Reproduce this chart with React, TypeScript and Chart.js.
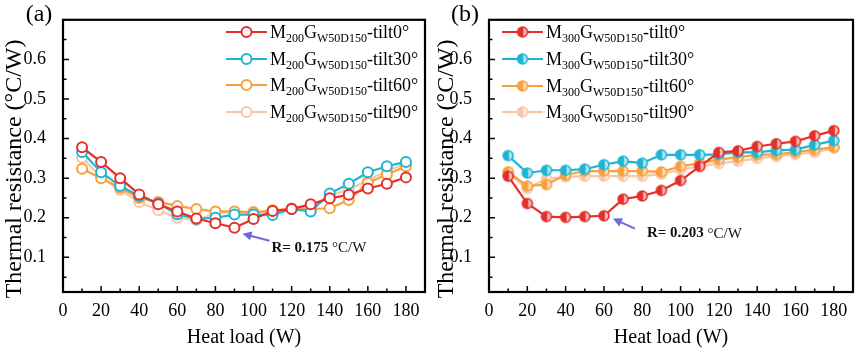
import React, { useEffect, useRef } from "react";
import { Chart, registerables } from "chart.js";
Chart.register(...registerables);

// ---------- data ----------
const heatLoad = [10, 20, 30, 40, 50, 60, 70, 80, 90, 100, 110, 120, 130, 140, 150, 160, 170, 180];

const m200Tilt0 = [0.378, 0.341, 0.300, 0.259, 0.234, 0.216, 0.198, 0.186, 0.175, 0.197, 0.217, 0.222, 0.234, 0.249, 0.258, 0.274, 0.286, 0.302];
const m200Tilt30 = [0.366, 0.315, 0.280, 0.255, 0.236, 0.209, 0.197, 0.200, 0.208, 0.208, 0.207, 0.222, 0.216, 0.261, 0.286, 0.315, 0.330, 0.341];
const m200Tilt60 = [0.324, 0.300, 0.276, 0.250, 0.240, 0.230, 0.222, 0.216, 0.216, 0.213, 0.219, 0.223, 0.222, 0.224, 0.245, 0.288, 0.309, 0.330];
const m200Tilt90 = [0.352, 0.302, 0.270, 0.240, 0.219, 0.200, 0.194, 0.212, 0.215, 0.215, 0.216, 0.224, 0.230, 0.255, 0.272, 0.294, 0.319, 0.336];

const m300Tilt0 = [0.305, 0.236, 0.203, 0.201, 0.203, 0.205, 0.247, 0.255, 0.269, 0.294, 0.330, 0.365, 0.369, 0.380, 0.387, 0.393, 0.407, 0.420];
const m300Tilt30 = [0.357, 0.313, 0.320, 0.320, 0.323, 0.334, 0.343, 0.338, 0.359, 0.359, 0.359, 0.360, 0.365, 0.365, 0.370, 0.372, 0.384, 0.395];
const m300Tilt60 = [0.316, 0.280, 0.284, 0.308, 0.318, 0.318, 0.318, 0.318, 0.316, 0.330, 0.338, 0.347, 0.353, 0.359, 0.360, 0.366, 0.372, 0.378];
const m300Tilt90 = [0.313, 0.274, 0.299, 0.303, 0.305, 0.305, 0.305, 0.305, 0.310, 0.322, 0.330, 0.337, 0.343, 0.350, 0.355, 0.360, 0.365, 0.376];

const tiltLabels = ["-tilt0°", "-tilt30°", "-tilt60°", "-tilt90°"];
const xMajorTicks = [0, 20, 40, 60, 80, 100, 120, 140, 160, 180];
const xMinorTicks = [10, 30, 50, 70, 90, 110, 130, 150, 170, 190];
const yMajorTicks = [0.1, 0.2, 0.3, 0.4, 0.5, 0.6];
const yMinorTicks = [0.05, 0.15, 0.25, 0.35, 0.45, 0.55, 0.65];
const xRange = [0, 190];
const yRange = [0.0125, 0.7];
const yTitle = "Thermal resistance (°C/W)";
const xTitle = "Heat load (W)";

const minA = { x: 90, y: 0.175, label: "0.175" };
const minB = { x: 60, y: 0.203, label: "0.203" };

const colors = ["#e3302a", "#1db5d3", "#f8a03d", "#f6c6a7"];
const SERIF = "'Liberation Serif', 'Times New Roman', serif";

// ---------- helpers ----------
function halfMarker(color: string, r = 5): HTMLCanvasElement {
  const size = r * 2 + 4;
  const c = document.createElement("canvas");
  c.width = size;
  c.height = size;
  const g = c.getContext("2d")!;
  const cx = size / 2, cy = size / 2;
  g.fillStyle = "#ffffff";
  g.beginPath();
  g.arc(cx, cy, r, 0, Math.PI * 2);
  g.fill();
  g.globalAlpha = 0.35;
  g.fillStyle = color;
  g.beginPath();
  g.arc(cx, cy, r, -Math.PI / 2, Math.PI / 2);
  g.fill();
  g.globalAlpha = 1;
  g.beginPath();
  g.moveTo(cx, cy - r);
  g.arc(cx, cy, r, -Math.PI / 2, Math.PI / 2, true);
  g.closePath();
  g.fill();
  g.strokeStyle = color;
  g.lineWidth = 1.6;
  g.beginPath();
  g.arc(cx, cy, r, 0, Math.PI * 2);
  g.stroke();
  g.beginPath();
  g.moveTo(cx, cy - r);
  g.lineTo(cx, cy + r);
  g.stroke();
  return c;
}

type PanelCfg = {
  id: string;
  series: number[][];
  mass: string;
  half: boolean;
  width: number;
  yAxisWidth: number;
  padRight: number;
  padTop: number;
  panelLabel: string;
  panelLabelX: number;
  yTitleX: number;
  legendLineX: number;
  legendRowY: number[];
  minPoint: { x: number; y: number; label: string };
  arrowTip: [number, number];
  arrowTail: [number, number];
  textOffset: [number, number];
};

function makePlugin(cfg: PanelCfg, markers: (HTMLCanvasElement | null)[]) {
  return {
    id: "deco_" + cfg.id,
    afterDraw(chart: any) {
      const ctx: CanvasRenderingContext2D = chart.ctx;
      const { left, right, top, bottom } = chart.chartArea;
      const xs = chart.scales.x, ys = chart.scales.y;
      ctx.save();
      // ticks inward
      ctx.strokeStyle = "#000";
      ctx.lineWidth = 1.5;
      ctx.beginPath();
      xMajorTicks.forEach((v) => { const p = xs.getPixelForValue(v); ctx.moveTo(p, bottom); ctx.lineTo(p, bottom - 6); });
      xMinorTicks.forEach((v) => { const p = xs.getPixelForValue(v); ctx.moveTo(p, bottom); ctx.lineTo(p, bottom - 3.5); });
      yMajorTicks.forEach((v) => { const p = ys.getPixelForValue(v); ctx.moveTo(left, p); ctx.lineTo(left + 6, p); });
      yMinorTicks.forEach((v) => { const p = ys.getPixelForValue(v); ctx.moveTo(left, p); ctx.lineTo(left + 3.5, p); });
      ctx.stroke();
      // frame
      ctx.lineWidth = 2.2;
      ctx.strokeRect(left, top, right - left, bottom - top);

      // y title (drawn manually, shifted like the reference)
      ctx.fillStyle = "#000";
      ctx.save();
      ctx.translate(cfg.yTitleX, (top + bottom) / 2 + 13);
      ctx.rotate(-Math.PI / 2);
      ctx.font = `24px ${SERIF}`;
      ctx.textAlign = "center";
      ctx.textBaseline = "middle";
      ctx.fillText(yTitle, 0, 0);
      ctx.restore();

      // panel label
      ctx.font = `24px ${SERIF}`;
      ctx.textAlign = "center";
      ctx.textBaseline = "middle";
      ctx.fillText(cfg.panelLabel, cfg.panelLabelX, 15);

      // legend
      cfg.series.forEach((_, i) => {
        const y = cfg.legendRowY[i];
        const x0 = cfg.legendLineX, x1 = x0 + 41;
        ctx.strokeStyle = colors[i];
        ctx.lineWidth = 2.2;
        ctx.beginPath();
        ctx.moveTo(x0, y);
        ctx.lineTo(x1, y);
        ctx.stroke();
        const mx = (x0 + x1) / 2;
        const mk = markers[i];
        if (mk) {
          ctx.drawImage(mk, mx - mk.width / 2, y - mk.height / 2);
        } else {
          ctx.fillStyle = "#fff";
          ctx.beginPath();
          ctx.arc(mx, y, 5, 0, Math.PI * 2);
          ctx.fill();
          ctx.lineWidth = 2;
          ctx.stroke();
        }
        let tx = x1 + 3;
        ctx.fillStyle = "#000";
        ctx.textAlign = "left";
        ctx.textBaseline = "alphabetic";
        const base = y + 6;
        const parts: [string, boolean][] = [["M", false], [cfg.mass, true], ["G", false], ["W50D150", true], [tiltLabels[i], false]];
        parts.forEach(([t, sub]) => {
          ctx.font = sub ? `12px ${SERIF}` : `18px ${SERIF}`;
          ctx.fillText(t, tx, sub ? base + 4 : base);
          tx += ctx.measureText(t).width;
        });
      });

      // annotation
      const px = xs.getPixelForValue(cfg.minPoint.x);
      const py = ys.getPixelForValue(cfg.minPoint.y);
      const tipX = px + cfg.arrowTip[0], tipY = py + cfg.arrowTip[1];
      const tailX = px + cfg.arrowTail[0], tailY = py + cfg.arrowTail[1];
      ctx.strokeStyle = "#6b6be0";
      ctx.fillStyle = "#6b6be0";
      ctx.lineWidth = 2;
      const ang = Math.atan2(tipY - tailY, tipX - tailX);
      ctx.beginPath();
      ctx.moveTo(tailX, tailY);
      ctx.lineTo(tipX - Math.cos(ang) * 6, tipY - Math.sin(ang) * 6);
      ctx.stroke();
      ctx.beginPath();
      ctx.moveTo(tipX, tipY);
      ctx.lineTo(tipX - Math.cos(ang) * 9 + Math.sin(ang) * 4.5, tipY - Math.sin(ang) * 9 - Math.cos(ang) * 4.5);
      ctx.lineTo(tipX - Math.cos(ang) * 9 - Math.sin(ang) * 4.5, tipY - Math.sin(ang) * 9 + Math.cos(ang) * 4.5);
      ctx.closePath();
      ctx.fill();

      let tx = px + cfg.textOffset[0];
      const ty = py + cfg.textOffset[1];
      ctx.fillStyle = "#111";
      ctx.textAlign = "left";
      ctx.textBaseline = "middle";
      ctx.font = `bold 15px ${SERIF}`;
      const t1 = "R= " + cfg.minPoint.label + " ";
      ctx.fillText(t1, tx, ty);
      tx += ctx.measureText(t1).width;
      ctx.font = `15px ${SERIF}`;
      ctx.fillText("°C/W", tx, ty);
      ctx.restore();
    },
  };
}

function Panel({ cfg, left }: { cfg: PanelCfg; left: number }) {
  const ref = useRef<HTMLCanvasElement | null>(null);
  useEffect(() => {
    if (!ref.current) return;
    const markers = cfg.series.map((_, i) => (cfg.half ? halfMarker(colors[i]) : null));
    const datasets = cfg.series.map((s, i) => ({
      label: "M" + cfg.mass + "GW50D150" + tiltLabels[i],
      data: heatLoad.map((x, k) => ({ x, y: s[k] })),
      borderColor: colors[i],
      backgroundColor: "#ffffff",
      borderWidth: 2.2,
      pointRadius: 5,
      pointBorderWidth: 2,
      pointBorderColor: colors[i],
      pointBackgroundColor: "#ffffff",
      pointStyle: cfg.half ? (markers[i] as any) : "circle",
      tension: 0,
      fill: false,
      clip: 8,
    }));
    const chart = new Chart(ref.current, {
      type: "line",
      data: { datasets },
      options: {
        animation: false,
        responsive: false,
        events: [],
        layout: { padding: { left: 0, right: cfg.padRight, top: cfg.padTop, bottom: 0 } },
        plugins: { legend: { display: false }, tooltip: { enabled: false } },
        scales: {
          x: {
            type: "linear",
            min: xRange[0],
            max: xRange[1],
            grid: { display: false },
            border: { display: false },
            afterBuildTicks: (s: any) => { s.ticks = xMajorTicks.map((v) => ({ value: v })); },
            afterFit: (s: any) => { s.height = 58; },
            ticks: {
              color: "#000",
              font: { family: SERIF, size: 18 },
              padding: 0,
              maxRotation: 0,
              autoSkip: false,
              callback: (v: any) => String(v),
            },
            title: {
              display: true,
              text: xTitle,
              color: "#000",
              font: { family: SERIF, size: 20 },
              padding: { top: 0, bottom: 0 },
            },
          },
          y: {
            type: "linear",
            min: yRange[0],
            max: yRange[1],
            grid: { display: false },
            border: { display: false },
            afterBuildTicks: (s: any) => { s.ticks = yMajorTicks.map((v) => ({ value: v })); },
            afterFit: (s: any) => { s.width = cfg.yAxisWidth; },
            ticks: {
              color: "#000",
              font: { family: SERIF, size: 18 },
              padding: 9,
              autoSkip: false,
              callback: (v: any) => Number(v).toFixed(1),
            },
            title: { display: false },
          },
        },
      },
      plugins: [makePlugin(cfg, markers)],
    } as any);
    return () => chart.destroy();
  }, [cfg]);
  return (
    <canvas
      ref={ref}
      width={cfg.width}
      height={350}
      style={{ position: "absolute", left, top: 0, width: cfg.width, height: 350 }}
    />
  );
}

const cfgA: PanelCfg = {
  id: "a",
  series: [m200Tilt0, m200Tilt30, m200Tilt60, m200Tilt90],
  mass: "200",
  half: false,
  width: 432,
  yAxisWidth: 63,
  padRight: 5,
  padTop: 16,
  panelLabel: "(a)",
  panelLabelX: 39,
  yTitleX: 15,
  legendLineX: 226,
  legendRowY: [32, 59, 85, 112],
  minPoint: minA,
  arrowTip: [8, 6],
  arrowTail: [35, 13],
  textOffset: [37, 20],
};

const cfgB: PanelCfg = {
  id: "b",
  series: [m300Tilt0, m300Tilt30, m300Tilt60, m300Tilt90],
  mass: "300",
  half: true,
  width: 433,
  yAxisWidth: 57,
  padRight: 12,
  padTop: 17,
  panelLabel: "(b)",
  panelLabelX: 33,
  yTitleX: 15,
  legendLineX: 70,
  legendRowY: [32, 59, 86, 112],
  minPoint: minB,
  arrowTip: [9, 2],
  arrowTail: [31, 12],
  textOffset: [43, 17],
};

export default function App() {
  return (
    <div style={{ position: "fixed", left: 0, top: 0, width: 865, height: 350, background: "#fff", overflow: "hidden" }}>
      <Panel cfg={cfgA} left={0} />
      <Panel cfg={cfgB} left={432} />
    </div>
  );
}
